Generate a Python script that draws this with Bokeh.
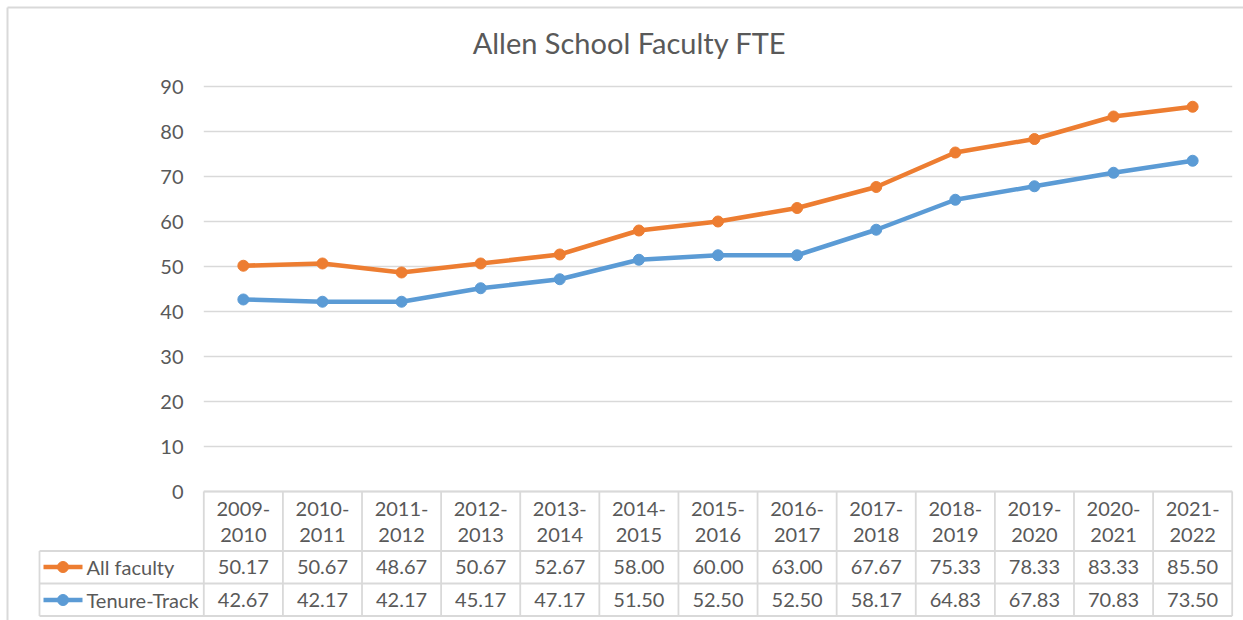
from bokeh.plotting import figure
from bokeh.models import ColumnDataSource, Range1d
from bokeh.embed import file_html
from bokeh.resources import INLINE
from bokeh.core.properties import value

# ---------------- data ----------------
categories = ["2009-2010", "2010-2011", "2011-2012", "2012-2013", "2013-2014",
              "2014-2015", "2015-2016", "2016-2017", "2017-2018", "2018-2019",
              "2019-2020", "2020-2021", "2021-2022"]
all_faculty = [50.17, 50.67, 48.67, 50.67, 52.67, 58.00, 60.00, 63.00,
               67.67, 75.33, 78.33, 83.33, 85.50]
tenure_track = [42.67, 42.17, 42.17, 45.17, 47.17, 51.50, 52.50, 52.50,
                58.17, 64.83, 67.83, 70.83, 73.50]
series_names = ["All faculty", "Tenure-Track"]
y_ticks = [0, 10, 20, 30, 40, 50, 60, 70, 80, 90]
title_text = "Allen School Faculty FTE"

# ---------------- layout helpers (page pixels) ----------------
W, H = 1243, 620
BORDER = 7                                   # outer chart border (top & left)
PLOT_L, PLOT_R = 203.3, 1231.7              # plot/table left & right
Y0_PX, PX_PER_UNIT = 491.0, 4.5             # page px of value 0, px per unit
n = len(categories)
CW = (PLOT_R - PLOT_L) / n


def px2x(px):
    return (px - PLOT_L) / CW


def px2y(py):
    return (Y0_PX - py) / PX_PER_UNIT


FONT = value("Lato")
TXT = "#595959"
GRID = "#D9D9D9"
ORANGE = "#ED7D31"
BLUE = "#5B9BD5"
FS = "20px"

p = figure(width=W, height=H, output_backend="svg", toolbar_location=None,
           x_range=Range1d(px2x(0), px2x(W)),
           y_range=Range1d(px2y(H), px2y(0)),
           min_border=0)
p.xaxis.visible = False
p.yaxis.visible = False
p.xgrid.visible = False
p.ygrid.visible = False
p.outline_line_color = None
p.background_fill_color = "white"
p.border_fill_color = "white"

# outer chart border (top and left edges visible)
p.segment(x0=[px2x(BORDER), px2x(BORDER)], x1=[px2x(W + 5), px2x(BORDER)],
          y0=[px2y(BORDER), px2y(BORDER)], y1=[px2y(BORDER), px2y(H + 5)],
          line_color=GRID, line_width=2)

# gridlines (value axis)
p.segment(x0=[0] * len(y_ticks), x1=[n] * len(y_ticks), y0=y_ticks, y1=y_ticks,
          line_color=GRID, line_width=1.5)
# tick labels
p.text(x=[px2x(183)] * len(y_ticks), y=y_ticks, text=[str(t) for t in y_ticks],
       text_font=FONT, text_font_size=FS, text_color=TXT,
       text_align="right", text_baseline="middle")

# title
p.text(x=[px2x(629)], y=[px2y(41.5)], text=[title_text], text_font=FONT,
       text_font_size="29px", text_color=TXT, text_align="center",
       text_baseline="middle")

# series
xs = [i + 0.5 for i in range(n)]
src = ColumnDataSource(dict(x=xs, a=all_faculty, t=tenure_track))
p.line("x", "a", source=src, line_color=ORANGE, line_width=4.5)
p.scatter("x", "a", source=src, size=11, fill_color=ORANGE, line_color=ORANGE)
p.line("x", "t", source=src, line_color=BLUE, line_width=4.5)
p.scatter("x", "t", source=src, size=11, fill_color=BLUE, line_color=BLUE)

# ---------------- data table ----------------
HDR_BOT = 550.5
R1_BOT = 583.0
R2_BOT = 615.5
LEG_L = 39.0
tw = 1.8
y_top, y_h, y_r1, y_r2 = 0, px2y(HDR_BOT), px2y(R1_BOT), px2y(R2_BOT)
# horizontal lines
p.segment(x0=[0, px2x(LEG_L), px2x(LEG_L), px2x(LEG_L)], x1=[n] * 4,
          y0=[y_top, y_h, y_r1, y_r2], y1=[y_top, y_h, y_r1, y_r2],
          line_color=GRID, line_width=tw)
# vertical lines
p.segment(x0=list(range(n + 1)), x1=list(range(n + 1)),
          y0=[y_top] * (n + 1), y1=[y_r2] * (n + 1), line_color=GRID, line_width=tw)
p.segment(x0=[px2x(LEG_L)], x1=[px2x(LEG_L)], y0=[y_h], y1=[y_r2],
          line_color=GRID, line_width=tw)

# header labels (two lines)
first = [c.split("-")[0] + "-" for c in categories]
second = [c.split("-")[1] for c in categories]
p.text(x=xs, y=[px2y(508)] * n, text=first, text_font=FONT, text_font_size=FS,
       text_color=TXT, text_align="center", text_baseline="middle")
p.text(x=xs, y=[px2y(534)] * n, text=second, text_font=FONT, text_font_size=FS,
       text_color=TXT, text_align="center", text_baseline="middle")

# values
r1c, r2c = px2y(566.5), px2y(599.5)
p.text(x=xs, y=[r1c] * n, text=["%.2f" % v for v in all_faculty], text_font=FONT,
       text_font_size=FS, text_color=TXT, text_align="center",
       text_baseline="middle")
p.text(x=xs, y=[r2c] * n, text=["%.2f" % v for v in tenure_track], text_font=FONT,
       text_font_size=FS, text_color=TXT, text_align="center",
       text_baseline="middle")

# legend keys
for yc, col, name in [(r1c, ORANGE, series_names[0]), (r2c, BLUE, series_names[1])]:
    p.segment(x0=[px2x(43)], x1=[px2x(82)], y0=[yc], y1=[yc], line_color=col,
              line_width=4.5)
    p.scatter(x=[px2x(62.5)], y=[yc], size=11, fill_color=col, line_color=col)
    p.text(x=[px2x(86)], y=[yc], text=[name], text_font=FONT, text_font_size=FS,
           text_color=TXT, text_align="left", text_baseline="middle")

open("out.html", "w").write(file_html(p, INLINE))
